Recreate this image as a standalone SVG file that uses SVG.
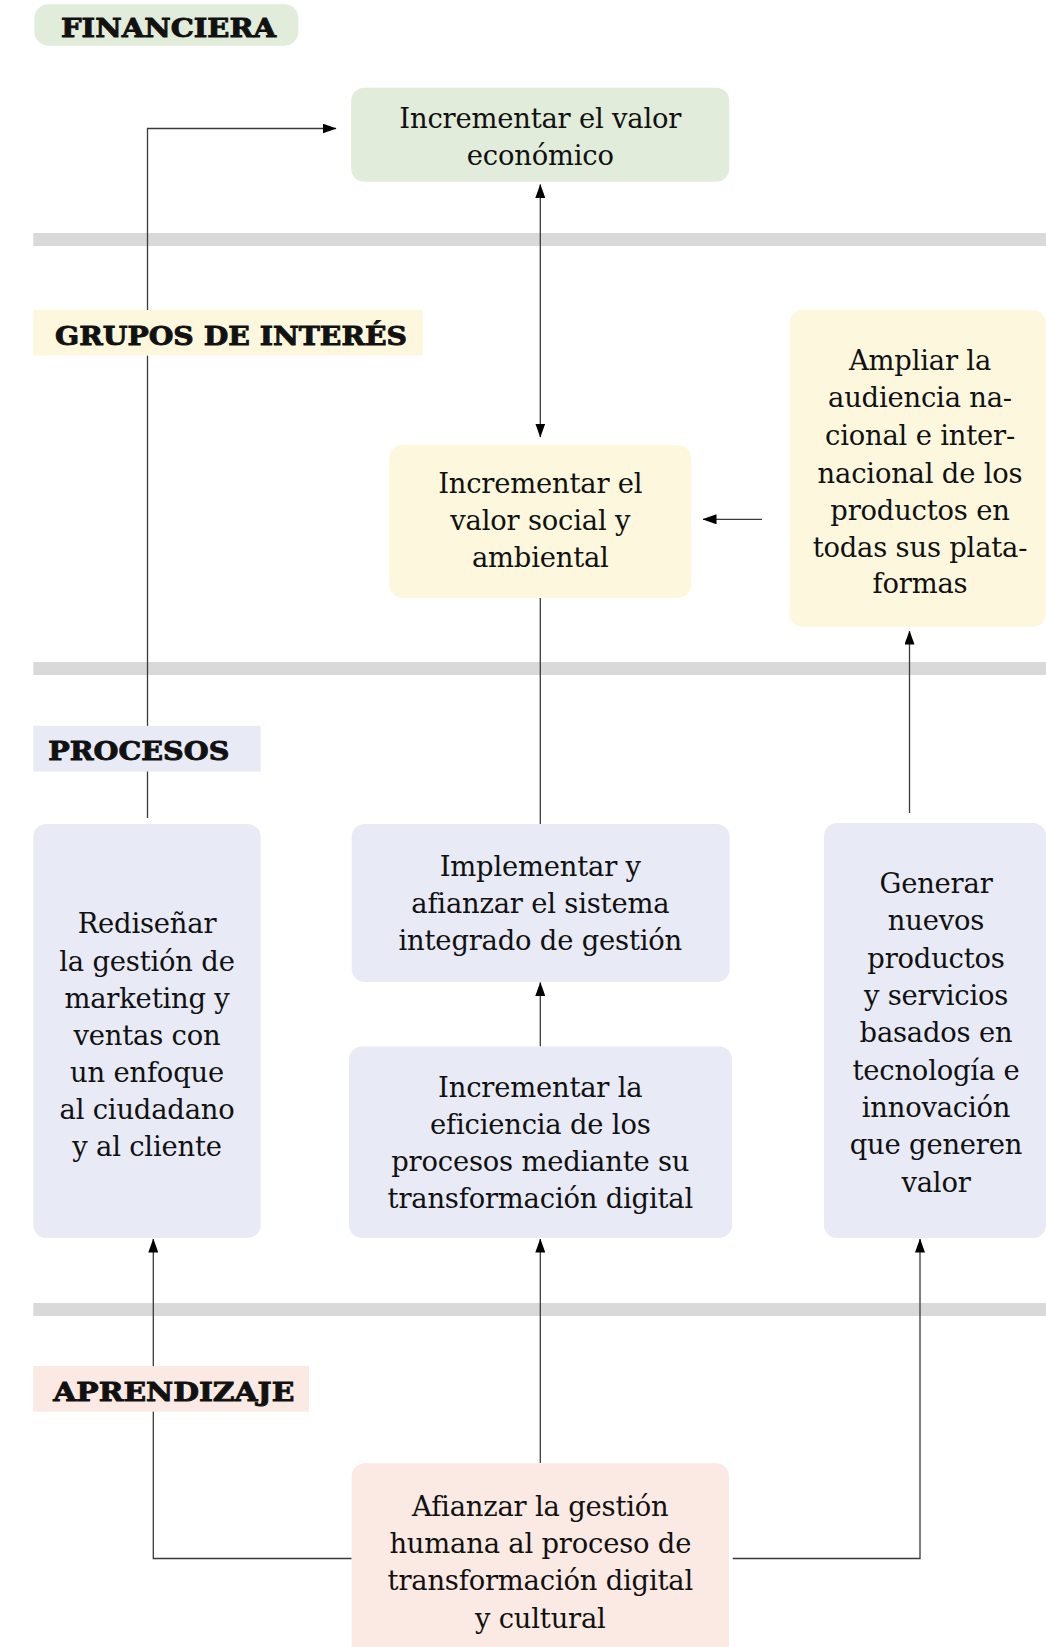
<svg xmlns="http://www.w3.org/2000/svg" width="1046" height="1647" viewBox="0 0 1046 1647">
<style>
.bar{fill:#d9d9d9}
.lbl{font-family:"DejaVu Serif","Liberation Serif",serif;font-weight:bold;font-size:26px;fill:#111;stroke:#111;stroke-width:0.9}
.txt{font-family:"DejaVu Serif","Liberation Serif",serif;font-size:27.4px;fill:#111;text-anchor:middle;letter-spacing:-0.2px}
.ln{fill:none;stroke:#3a3a3a;stroke-width:1.3}
.green{fill:#e2ecda}
.yellow{fill:#fdf8dd}
.lav{fill:#e8eaf6}
.pink{fill:#fbe9e3}
</style>
<defs>
<marker id="ah" viewBox="0 0 14 10" refX="13.5" refY="5" markerWidth="14" markerHeight="10" markerUnits="userSpaceOnUse" orient="auto-start-reverse">
<path d="M0,0 L14,5 L0,10 Z" fill="#000"/>
</marker>
</defs>
<rect width="1046" height="1647" fill="#fff"/>

<g id="separators">
<rect class="bar" x="33.3" y="233" width="1013" height="13"/>
<rect class="bar" x="33.3" y="662" width="1013" height="13"/>
<rect class="bar" x="33.3" y="1303" width="1013" height="13"/>
</g>

<g id="connectors">
<path class="ln" d="M147.5 818 V128.5 H336" marker-end="url(#ah)"/>
<path class="ln" d="M540.3 184.5 V437" marker-start="url(#ah)" marker-end="url(#ah)"/>
<path class="ln" d="M762 519.3 H703" marker-end="url(#ah)"/>
<path class="ln" d="M540.3 598 V824"/>
<path class="ln" d="M909.5 813 V631" marker-end="url(#ah)"/>
<path class="ln" d="M540.3 1046.5 V982.5" marker-end="url(#ah)"/>
<path class="ln" d="M351.7 1558.5 H153.3 V1239" marker-end="url(#ah)"/>
<path class="ln" d="M540.3 1463 V1239" marker-end="url(#ah)"/>
<path class="ln" d="M732.7 1558.5 H920 V1239" marker-end="url(#ah)"/>
</g>

<g id="label-financiera">
<rect class="green" x="34.4" y="4.3" width="264" height="41.4" rx="14"/>
<text class="lbl" x="61" y="37.3" textLength="215" lengthAdjust="spacingAndGlyphs">FINANCIERA</text>
</g>
<g id="label-grupos">
<rect class="yellow" x="33.3" y="310" width="389.4" height="45.7"/>
<text class="lbl" x="55" y="345" textLength="352" lengthAdjust="spacingAndGlyphs">GRUPOS DE INTERÉS</text>
</g>
<g id="label-procesos">
<rect class="lav" x="33.3" y="725.8" width="227.4" height="45.8"/>
<text class="lbl" x="48.3" y="759.8" textLength="181" lengthAdjust="spacingAndGlyphs">PROCESOS</text>
</g>
<g id="label-aprendizaje">
<rect class="pink" x="33.3" y="1366" width="275.7" height="45.7"/>
<text class="lbl" x="53.3" y="1400.7" textLength="241" lengthAdjust="spacingAndGlyphs">APRENDIZAJE</text>
</g>

<g id="node-valor-economico">
<rect class="green" x="351.2" y="87.7" width="378" height="94" rx="13"/>
<text class="txt"><tspan x="540.3" y="128">Incrementar el valor</tspan><tspan x="540.3" y="164.5">económico</tspan></text>
</g>

<g id="node-valor-social">
<rect class="yellow" x="389.3" y="445" width="302" height="152.7" rx="13"/>
<text class="txt"><tspan x="540.3" y="493.3">Incrementar el</tspan><tspan x="540.3" y="530">valor social y</tspan><tspan x="540.3" y="566.7">ambiental</tspan></text>
</g>

<g id="node-ampliar-audiencia">
<rect class="yellow" x="789.7" y="310" width="256" height="316.7" rx="13"/>
<text class="txt"><tspan x="920" y="370">Ampliar la</tspan><tspan x="920" y="407.3">audiencia na-</tspan><tspan x="920" y="445">cional e inter-</tspan><tspan x="920" y="482.7">nacional de los</tspan><tspan x="920" y="520">productos en</tspan><tspan x="920" y="556.7">todas sus plata-</tspan><tspan x="920" y="593.3">formas</tspan></text>
</g>

<g id="node-redisenar">
<rect class="lav" x="33.3" y="824" width="227.4" height="414" rx="13"/>
<text class="txt"><tspan x="147" y="933.4">Rediseñar</tspan><tspan x="147" y="970.5">la gestión de</tspan><tspan x="147" y="1007.7">marketing y</tspan><tspan x="147" y="1044.8">ventas con</tspan><tspan x="147" y="1081.9">un enfoque</tspan><tspan x="147" y="1119">al ciudadano</tspan><tspan x="147" y="1156.2">y al cliente</tspan></text>
</g>

<g id="node-implementar">
<rect class="lav" x="351.7" y="824" width="378" height="158" rx="13"/>
<text class="txt"><tspan x="540.3" y="876">Implementar y</tspan><tspan x="540.3" y="913.2">afianzar el sistema</tspan><tspan x="540.3" y="950.4">integrado de gestión</tspan></text>
</g>

<g id="node-eficiencia">
<rect class="lav" x="349" y="1046.5" width="383" height="191.5" rx="13"/>
<text class="txt"><tspan x="540.3" y="1096.7">Incrementar la</tspan><tspan x="540.3" y="1133.9">eficiencia de los</tspan><tspan x="540.3" y="1171">procesos mediante su</tspan><tspan x="540.3" y="1208.2">transformación digital</tspan></text>
</g>

<g id="node-generar">
<rect class="lav" x="824" y="823" width="222" height="415" rx="13"/>
<text class="txt"><tspan x="936" y="893">Generar</tspan><tspan x="936" y="930.3">nuevos</tspan><tspan x="936" y="967.6">productos</tspan><tspan x="936" y="1005">y servicios</tspan><tspan x="936" y="1042.3">basados en</tspan><tspan x="936" y="1079.6">tecnología e</tspan><tspan x="936" y="1117">innovación</tspan><tspan x="936" y="1154.3">que generen</tspan><tspan x="936" y="1191.6">valor</tspan></text>
</g>

<g id="node-afianzar">
<rect class="pink" x="351.7" y="1463.3" width="377.3" height="200" rx="13"/>
<text class="txt"><tspan x="540.3" y="1515.7">Afianzar la gestión</tspan><tspan x="540.3" y="1553">humana al proceso de</tspan><tspan x="540.3" y="1590.4">transformación digital</tspan><tspan x="540.3" y="1627.7">y cultural</tspan></text>
</g>
</svg>
